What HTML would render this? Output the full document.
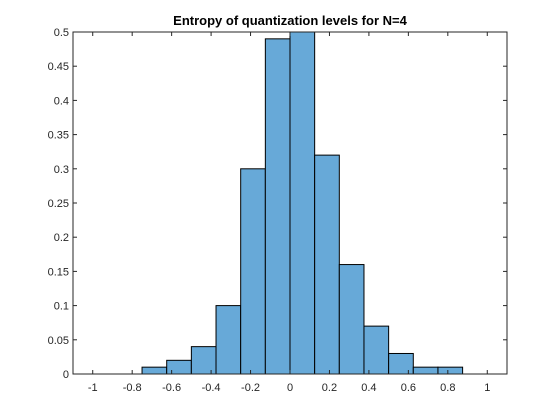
<!DOCTYPE html>
<html><head><meta charset="utf-8"><style>
html,body{margin:0;padding:0;background:#fff;width:560px;height:420px;overflow:hidden}
text{font-family:"Liberation Sans",Arial,sans-serif}
</style></head><body>
<svg id="chart" width="560" height="420">
<rect x="0" y="0" width="560" height="420" fill="#fff"/>
<text x="290" y="25" text-anchor="middle" font-size="13" font-weight="bold" fill="#000">Entropy of quantization levels for N=4</text>
<g id="bars"></g>
<g id="axes"></g>
</svg>
<script>
const binEdges=[-0.75,-0.625,-0.5,-0.375,-0.25,-0.125,0,0.125,0.25,0.375,0.5,0.625,0.75,0.875];
const binValues=[0.01,0.02,0.04,0.10,0.30,0.49,0.50,0.32,0.16,0.07,0.03,0.01,0.01];
const xTicks=[-1,-0.8,-0.6,-0.4,-0.2,0,0.2,0.4,0.6,0.8,1];
const yTicks=[0,0.05,0.1,0.15,0.2,0.25,0.3,0.35,0.4,0.45,0.5];
const L=73,R=507,T=32,B=374;
const xmin=-1.1,xmax=1.1,ymin=0,ymax=0.5;
const sx=v=>L+(v-xmin)/(xmax-xmin)*(R-L);
const sy=v=>B-(v-ymin)/(ymax-ymin)*(B-T);
const NS='http://www.w3.org/2000/svg';
function mk(tag,attrs,parent){const e=document.createElementNS(NS,tag);for(const k in attrs)e.setAttribute(k,attrs[k]);parent.appendChild(e);return e;}
const bars=document.getElementById('bars'),axes=document.getElementById('axes');
binValues.forEach((v,i)=>{
  const x0=sx(binEdges[i]),x1=sx(binEdges[i+1]);
  const r=mk('rect',{x:x0,y:sy(v),width:x1-x0,height:sy(0)-sy(v),fill:'#67a9d8',stroke:'#000','stroke-width':1},bars);
  
  
});
const frame=mk('rect',{x:L,y:T,width:R-L,height:B-T,fill:'none',stroke:'#262626','stroke-width':1},axes);


xTicks.forEach(t=>{
  const x=sx(t);
  mk('line',{x1:x,y1:B,x2:x,y2:B-4,stroke:'#262626'},axes);
  mk('line',{x1:x,y1:T,x2:x,y2:T+4,stroke:'#262626'},axes);
  const tx=mk('text',{x:x,y:B+17,'text-anchor':'middle','font-size':11,fill:'#262626'},axes);
  tx.textContent=String(t);
  
  
});
yTicks.forEach(t=>{
  const y=sy(t);
  mk('line',{x1:L,y1:y,x2:L+4,y2:y,stroke:'#262626'},axes);
  mk('line',{x1:R,y1:y,x2:R-4,y2:y,stroke:'#262626'},axes);
  const tx=mk('text',{x:L-4,y:y+4,'text-anchor':'end','font-size':11,fill:'#262626'},axes);
  tx.textContent=String(t);
  
  
});
</script>
</body></html>
